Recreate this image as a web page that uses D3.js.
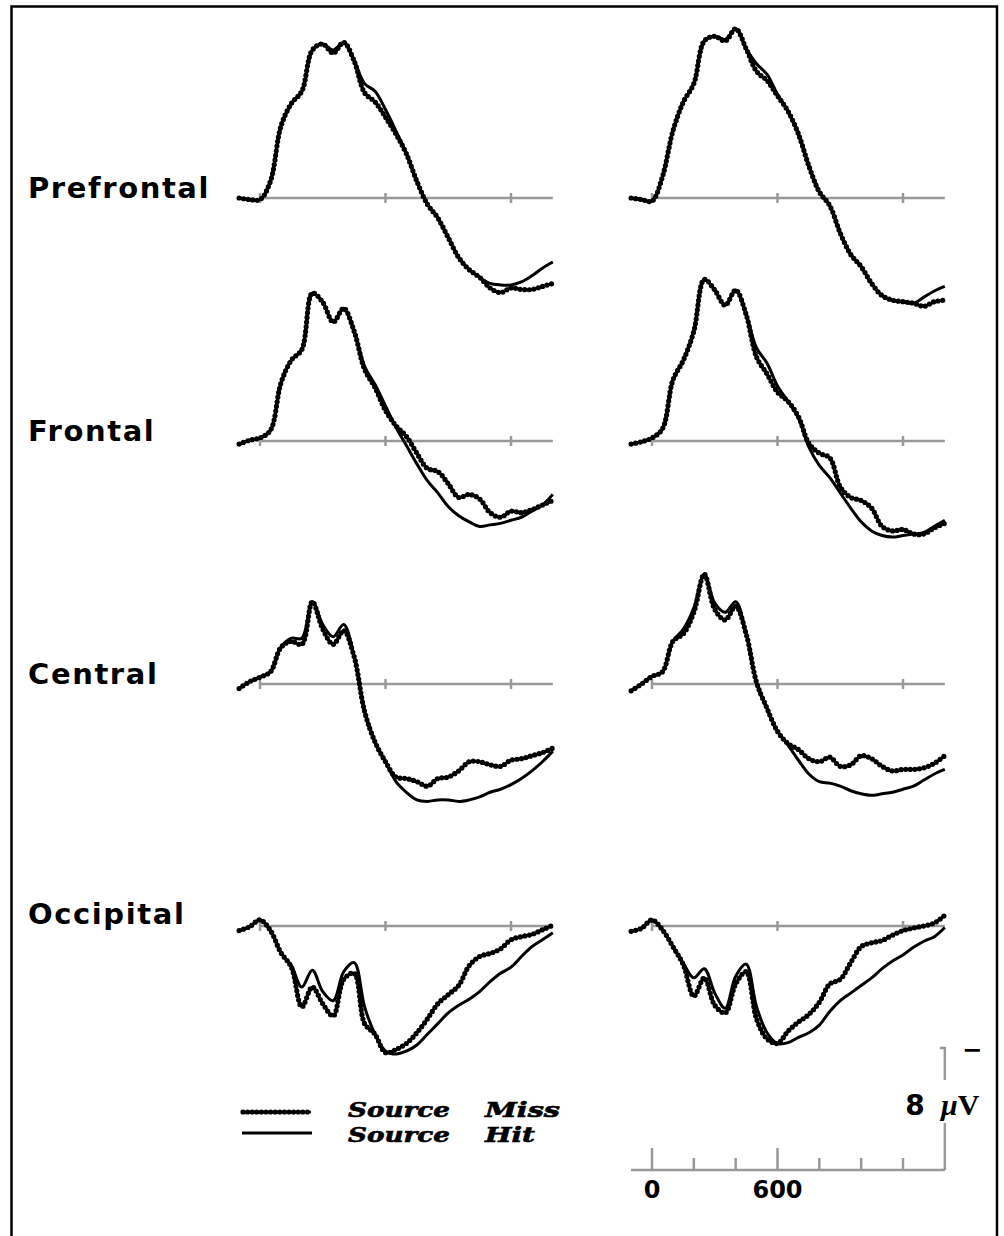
<html>
<head>
<title>Source Hit vs Source Miss ERPs</title>
<script src="https://d3js.org/d3.v7.min.js"></script>
<style>
  body { margin: 0; background: #fff; }
  svg text { fill: #000; }
</style>
</head>
<body>
<div id="container"></div>
<script>
// time points, ms
var times = [-100,-50,0,50,100,150,200,250,300,350,400,450,500,550,600,650,700,750,800,850,900,950,1000,1050,1100,1150,1200,1250,1300,1350,1400];

var regions = ["Prefrontal", "Frontal", "Central", "Occipital"];
var timeTicks = [0, 600, 1200];
var scaleTicks = [0, 200, 400, 600, 800, 1000, 1200];
var scaleLabels = [0, 600];
var legendLabels = ["Source Miss", "Source Hit"];

// amplitudes in microvolts (negative plotted up)
var prefrontalLeftMiss  = [0,0.1,0.1,-1.1,-4.7,-6.2,-7.0,-9.7,-10.1,-9.5,-10.2,-9.0,-6.9,-6.3,-5.3,-4.2,-2.9,-1.1,0.4,1.3,2.6,3.9,4.7,5.2,5.9,6.2,5.9,6.0,6.0,5.8,5.6];
var prefrontalLeftHit   = [0,0.1,0.1,-1.1,-4.7,-6.2,-7.0,-9.7,-10.1,-9.7,-10.2,-9.0,-7.5,-7.0,-5.8,-4.4,-2.9,-1.1,0.4,1.3,2.6,3.9,4.7,5.2,5.6,5.7,5.7,5.5,5.1,4.6,4.2];
var prefrontalRightMiss = [0,0.1,0.2,-1.4,-4.4,-6.3,-7.5,-10.3,-10.6,-10.3,-11.1,-9.8,-8.3,-7.7,-6.7,-5.7,-4.2,-2.1,-0.4,0.5,2.3,3.7,4.5,5.6,6.4,6.7,6.8,6.9,7.1,6.8,6.7];
var prefrontalRightHit  = [0,0.1,0.2,-1.4,-4.4,-6.3,-7.5,-10.3,-10.6,-10.4,-11.1,-9.8,-8.8,-8.1,-6.8,-5.7,-4.2,-2.1,-0.4,0.5,2.3,3.7,4.5,5.6,6.4,6.7,6.8,6.9,6.5,6.1,5.8];

var frontalLeftMiss  = [0.2,-0.05,-0.2,-0.7,-3.8,-5.3,-6.0,-9.7,-9.1,-7.8,-8.7,-7.2,-4.7,-3.5,-2.0,-1.0,-0.3,0.8,1.8,2.0,2.8,3.7,3.5,3.8,4.7,5.0,4.6,4.7,4.5,4.2,3.9];
var frontalLeftHit   = [0.2,-0.05,-0.2,-0.7,-3.8,-5.3,-6.0,-9.7,-9.1,-7.8,-8.7,-7.2,-4.9,-3.7,-2.3,-0.9,0.3,1.5,2.6,3.4,4.3,4.9,5.3,5.6,5.5,5.4,5.2,5.0,4.6,4.2,3.5];
var frontalRightMiss = [0.2,0.05,-0.2,-0.8,-4.0,-5.3,-7.2,-10.6,-9.9,-8.9,-9.9,-8.3,-5.5,-4.4,-3.2,-2.6,-1.6,0.15,0.8,1.1,3.0,3.7,3.9,4.4,5.6,5.9,5.8,6.1,6.1,5.7,5.4];
var frontalRightHit  = [0.2,0.05,-0.2,-0.8,-4.0,-5.3,-7.2,-10.6,-9.9,-8.9,-9.9,-8.3,-6.1,-5.1,-3.6,-2.6,-1.5,0.4,1.6,2.4,3.4,4.4,5.3,5.9,6.2,6.3,6.2,6.1,6.0,5.6,5.2];

var centralLeftMiss  = [0.3,-0.15,-0.45,-0.8,-2.4,-2.8,-2.6,-5.4,-3.6,-2.6,-3.5,-1.8,1.8,3.8,5.1,6.1,6.2,6.4,6.7,6.2,6.1,5.7,5.1,5.1,5.3,5.4,5.0,4.9,4.7,4.5,4.2];
var centralLeftHit   = [0.3,-0.15,-0.45,-0.8,-2.4,-3.0,-3.0,-5.4,-3.9,-3.1,-3.9,-1.8,1.8,3.8,5.1,6.4,7.1,7.6,7.7,7.6,7.6,7.7,7.6,7.4,7.1,6.9,6.6,6.2,5.7,5.1,4.4];
var centralRightMiss = [0.45,0,-0.5,-0.8,-2.8,-3.3,-4.7,-7.2,-4.9,-4.2,-5.1,-3.3,-0.1,1.6,3.1,3.9,4.3,4.9,5.1,4.8,5.4,5.3,4.7,4.9,5.4,5.7,5.6,5.6,5.5,5.2,4.7];
var centralRightHit  = [0.45,0,-0.5,-0.8,-2.8,-3.6,-5.0,-7.2,-5.3,-4.7,-5.4,-3.3,-0.1,1.6,3.1,4.0,5.0,5.9,6.4,6.5,6.7,7.0,7.2,7.3,7.2,7.1,6.9,6.7,6.3,5.9,5.6];

var occipitalLeftMiss  = [0.3,0.05,-0.4,0.3,1.75,2.7,5.3,4.0,5.1,5.9,3.5,3.1,6.4,7.1,8.3,8.1,7.7,7.0,6.1,5.1,4.5,3.9,2.6,2.0,1.8,1.5,0.9,0.7,0.55,0.25,-0.05];
var occipitalLeftHit   = [0.3,0.05,-0.4,0.3,1.75,2.6,4.0,2.9,4.3,4.9,3.0,2.4,5.3,7.1,8.2,8.4,8.2,7.8,7.1,6.4,5.7,5.2,4.8,4.3,3.65,3.1,2.7,2.0,1.35,0.9,0.45];
var occipitalRightMiss = [0.35,0.15,-0.4,0.25,1.35,2.55,4.6,3.4,5.2,5.7,3.8,3.0,6.1,7.4,7.7,6.9,6.3,5.8,5.0,3.8,3.5,2.4,1.35,1.1,0.95,0.6,0.3,0.13,0,-0.2,-0.7];
var occipitalRightHit  = [0.35,0.15,-0.4,0.25,1.35,2.45,3.4,2.8,4.4,5.4,3.3,2.5,5.3,7.0,7.7,7.65,7.3,7.0,6.5,5.6,4.9,4.4,3.9,3.4,2.8,2.3,1.9,1.4,1.0,0.7,0.1];

var panels = [
    { region: "Prefrontal", col: 0, miss: prefrontalLeftMiss,  hit: prefrontalLeftHit },
    { region: "Prefrontal", col: 1, miss: prefrontalRightMiss, hit: prefrontalRightHit },
    { region: "Frontal",    col: 0, miss: frontalLeftMiss,     hit: frontalLeftHit },
    { region: "Frontal",    col: 1, miss: frontalRightMiss,    hit: frontalRightHit },
    { region: "Central",    col: 0, miss: centralLeftMiss,     hit: centralLeftHit },
    { region: "Central",    col: 1, miss: centralRightMiss,    hit: centralRightHit },
    { region: "Occipital",  col: 0, miss: occipitalLeftMiss,   hit: occipitalLeftHit },
    { region: "Occipital",  col: 1, miss: occipitalRightMiss,  hit: occipitalRightHit }
];

var width = 1004;
var height = 1236;
var gray = "#999";
var pxPerMs = 125.5 / 600;
var colZero = [260, 652];
var baselines = [198, 441, 684, 926];
var uvPx = 122 / 8;

var svg = d3.select("#container")
            .append("svg")
            .attr("width", width)
            .attr("height", height);

// frame
svg.append("rect")
    .attr("x", 11.5).attr("y", 6.5)
    .attr("width", 985.5).attr("height", 1250)
    .style("fill", "none")
    .style("stroke", "#000")
    .style("stroke-width", 2.5);

var xScales = colZero.map(function(z) {
    return d3.scaleLinear().domain([-100, 1400]).range([z - 100 * pxPerMs, z + 1400 * pxPerMs]);
});

function yScale(base) {
    return d3.scaleLinear().domain([0, 8]).range([base, base + 8 * uvPx]);
}

// region labels
svg.selectAll(".region-label")
    .data(regions)
    .enter()
    .append("text")
    .classed("region-label", true)
    .attr("x", 28)
    .attr("y", function(d, i) { return baselines[i] - (i == 3 ? 2 : 0); })
    .style("font-family", "DejaVu Sans")
    .style("font-weight", "bold")
    .style("font-size", "29px")
    .style("letter-spacing", "1.6px")
    .text(function(d) { return d; });

panels.forEach(function(p) {
    var ri = regions.indexOf(p.region);
    var base = baselines[ri];
    var x = xScales[p.col];
    var y = yScale(base);
    var g = svg.append("g");

    // zero line with ticks
    g.append("line")
        .attr("x1", x(0)).attr("x2", x(1400))
        .attr("y1", y(0)).attr("y2", y(0))
        .style("stroke", gray)
        .style("stroke-width", 2.5);
    g.selectAll(".tick")
        .data(timeTicks)
        .enter()
        .append("line")
        .attr("x1", function(d) { return x(d); })
        .attr("x2", function(d) { return x(d); })
        .attr("y1", y(0) - 5).attr("y2", y(0) + 5)
        .style("stroke", gray)
        .style("stroke-width", 2.5);

    var line = d3.line()
        .x(function(d, i) { return x(times[i]); })
        .y(function(d) { return y(d); })
        .curve(d3.curveCatmullRom.alpha(0.5));

    // Source Miss: beaded line
    g.append("path")
        .attr("d", line(p.miss))
        .style("fill", "none")
        .style("stroke", "#000")
        .style("stroke-width", 2.6);
    g.append("path")
        .attr("d", line(p.miss))
        .style("fill", "none")
        .style("stroke", "#000")
        .style("stroke-width", 5.2)
        .style("stroke-linecap", "round")
        .style("stroke-dasharray", "0 4.6");

    // Source Hit: solid
    g.append("path")
        .attr("d", line(p.hit))
        .style("fill", "none")
        .style("stroke", "#000")
        .style("stroke-width", 3);
});

// legend
var legendY = [1112, 1133];
var lg = svg.append("g");
lg.append("line")
    .attr("x1", 243).attr("x2", 311)
    .attr("y1", legendY[0]).attr("y2", legendY[0])
    .style("stroke", "#000").style("stroke-width", 2.6);
lg.append("line")
    .attr("x1", 243).attr("x2", 311)
    .attr("y1", legendY[0]).attr("y2", legendY[0])
    .style("stroke", "#000").style("stroke-width", 5.2)
    .style("stroke-linecap", "round")
    .style("stroke-dasharray", "0 4.6");
lg.append("line")
    .attr("x1", 242).attr("x2", 312)
    .attr("y1", legendY[1]).attr("y2", legendY[1])
    .style("stroke", "#000").style("stroke-width", 2.8);

var legendWords = [
    { text: "Source", x: 348, y: 1117, len: 102 },
    { text: "Miss",   x: 485, y: 1117, len: 75 },
    { text: "Source", x: 348, y: 1142, len: 102 },
    { text: "Hit",    x: 485, y: 1142, len: 50 }
];
lg.selectAll(".legend-text")
    .data(legendWords)
    .enter()
    .append("text")
    .attr("x", function(d) { return d.x; })
    .attr("y", function(d) { return d.y; })
    .attr("textLength", function(d) { return d.len; })
    .attr("lengthAdjust", "spacingAndGlyphs")
    .style("font-family", "DejaVu Serif")
    .style("font-weight", "bold")
    .style("font-style", "italic")
    .style("font-size", "19.5px")
    .style("stroke", "#000")
    .style("stroke-width", 0.6)
    .text(function(d) { return d.text; });

// calibration bars
var sx = xScales[1];
var axisY = 1170;
var sy = d3.scaleLinear().domain([0, 8]).range([axisY, axisY - 8 * uvPx]);
var cal = svg.append("g");
cal.append("line")
    .attr("x1", sx(-100)).attr("x2", sx(1400))
    .attr("y1", axisY).attr("y2", axisY)
    .style("stroke", gray).style("stroke-width", 2.5);
cal.selectAll(".stick")
    .data(scaleTicks)
    .enter()
    .append("line")
    .attr("x1", function(d) { return sx(d); })
    .attr("x2", function(d) { return sx(d); })
    .attr("y1", axisY)
    .attr("y2", function(d) { return scaleLabels.indexOf(d) >= 0 ? axisY - 22 : axisY - 12; })
    .style("stroke", gray).style("stroke-width", 2.5);
cal.selectAll(".slabel")
    .data(scaleLabels)
    .enter()
    .append("text")
    .attr("x", function(d) { return sx(d); })
    .attr("y", 1198)
    .attr("text-anchor", "middle")
    .style("font-family", "DejaVu Sans")
    .style("font-weight", "bold")
    .style("font-size", "24px")
    .text(function(d) { return d; });

// vertical bar, broken around its label
cal.append("line")
    .attr("x1", sx(1400)).attr("x2", sx(1400))
    .attr("y1", sy(0)).attr("y2", sy(3.08))
    .style("stroke", gray).style("stroke-width", 2.5);
cal.append("line")
    .attr("x1", sx(1400)).attr("x2", sx(1400))
    .attr("y1", sy(5.9)).attr("y2", sy(8))
    .style("stroke", gray).style("stroke-width", 2.5);
cal.append("line")
    .attr("x1", sx(1400) - 5).attr("x2", sx(1400) + 1.2)
    .attr("y1", sy(8)).attr("y2", sy(8))
    .style("stroke", gray).style("stroke-width", 2.5);

cal.append("text")
    .attr("x", 915).attr("y", 1115)
    .attr("text-anchor", "middle")
    .style("font-family", "DejaVu Sans")
    .style("font-weight", "bold")
    .style("font-size", "28px")
    .text("8");
var uv = cal.append("text")
    .attr("x", 941).attr("y", 1115)
    .style("font-family", "Liberation Serif")
    .style("font-weight", "bold")
    .style("font-size", "30px");
uv.append("tspan").style("font-style", "italic").text("\u03bc");
uv.append("tspan").text("V");

cal.append("text")
    .attr("x", 972).attr("y", 1058)
    .attr("text-anchor", "middle")
    .style("font-family", "DejaVu Sans")
    .style("font-weight", "bold")
    .style("font-size", "24px")
    .text("\u2212");
</script>
</body>
</html>
